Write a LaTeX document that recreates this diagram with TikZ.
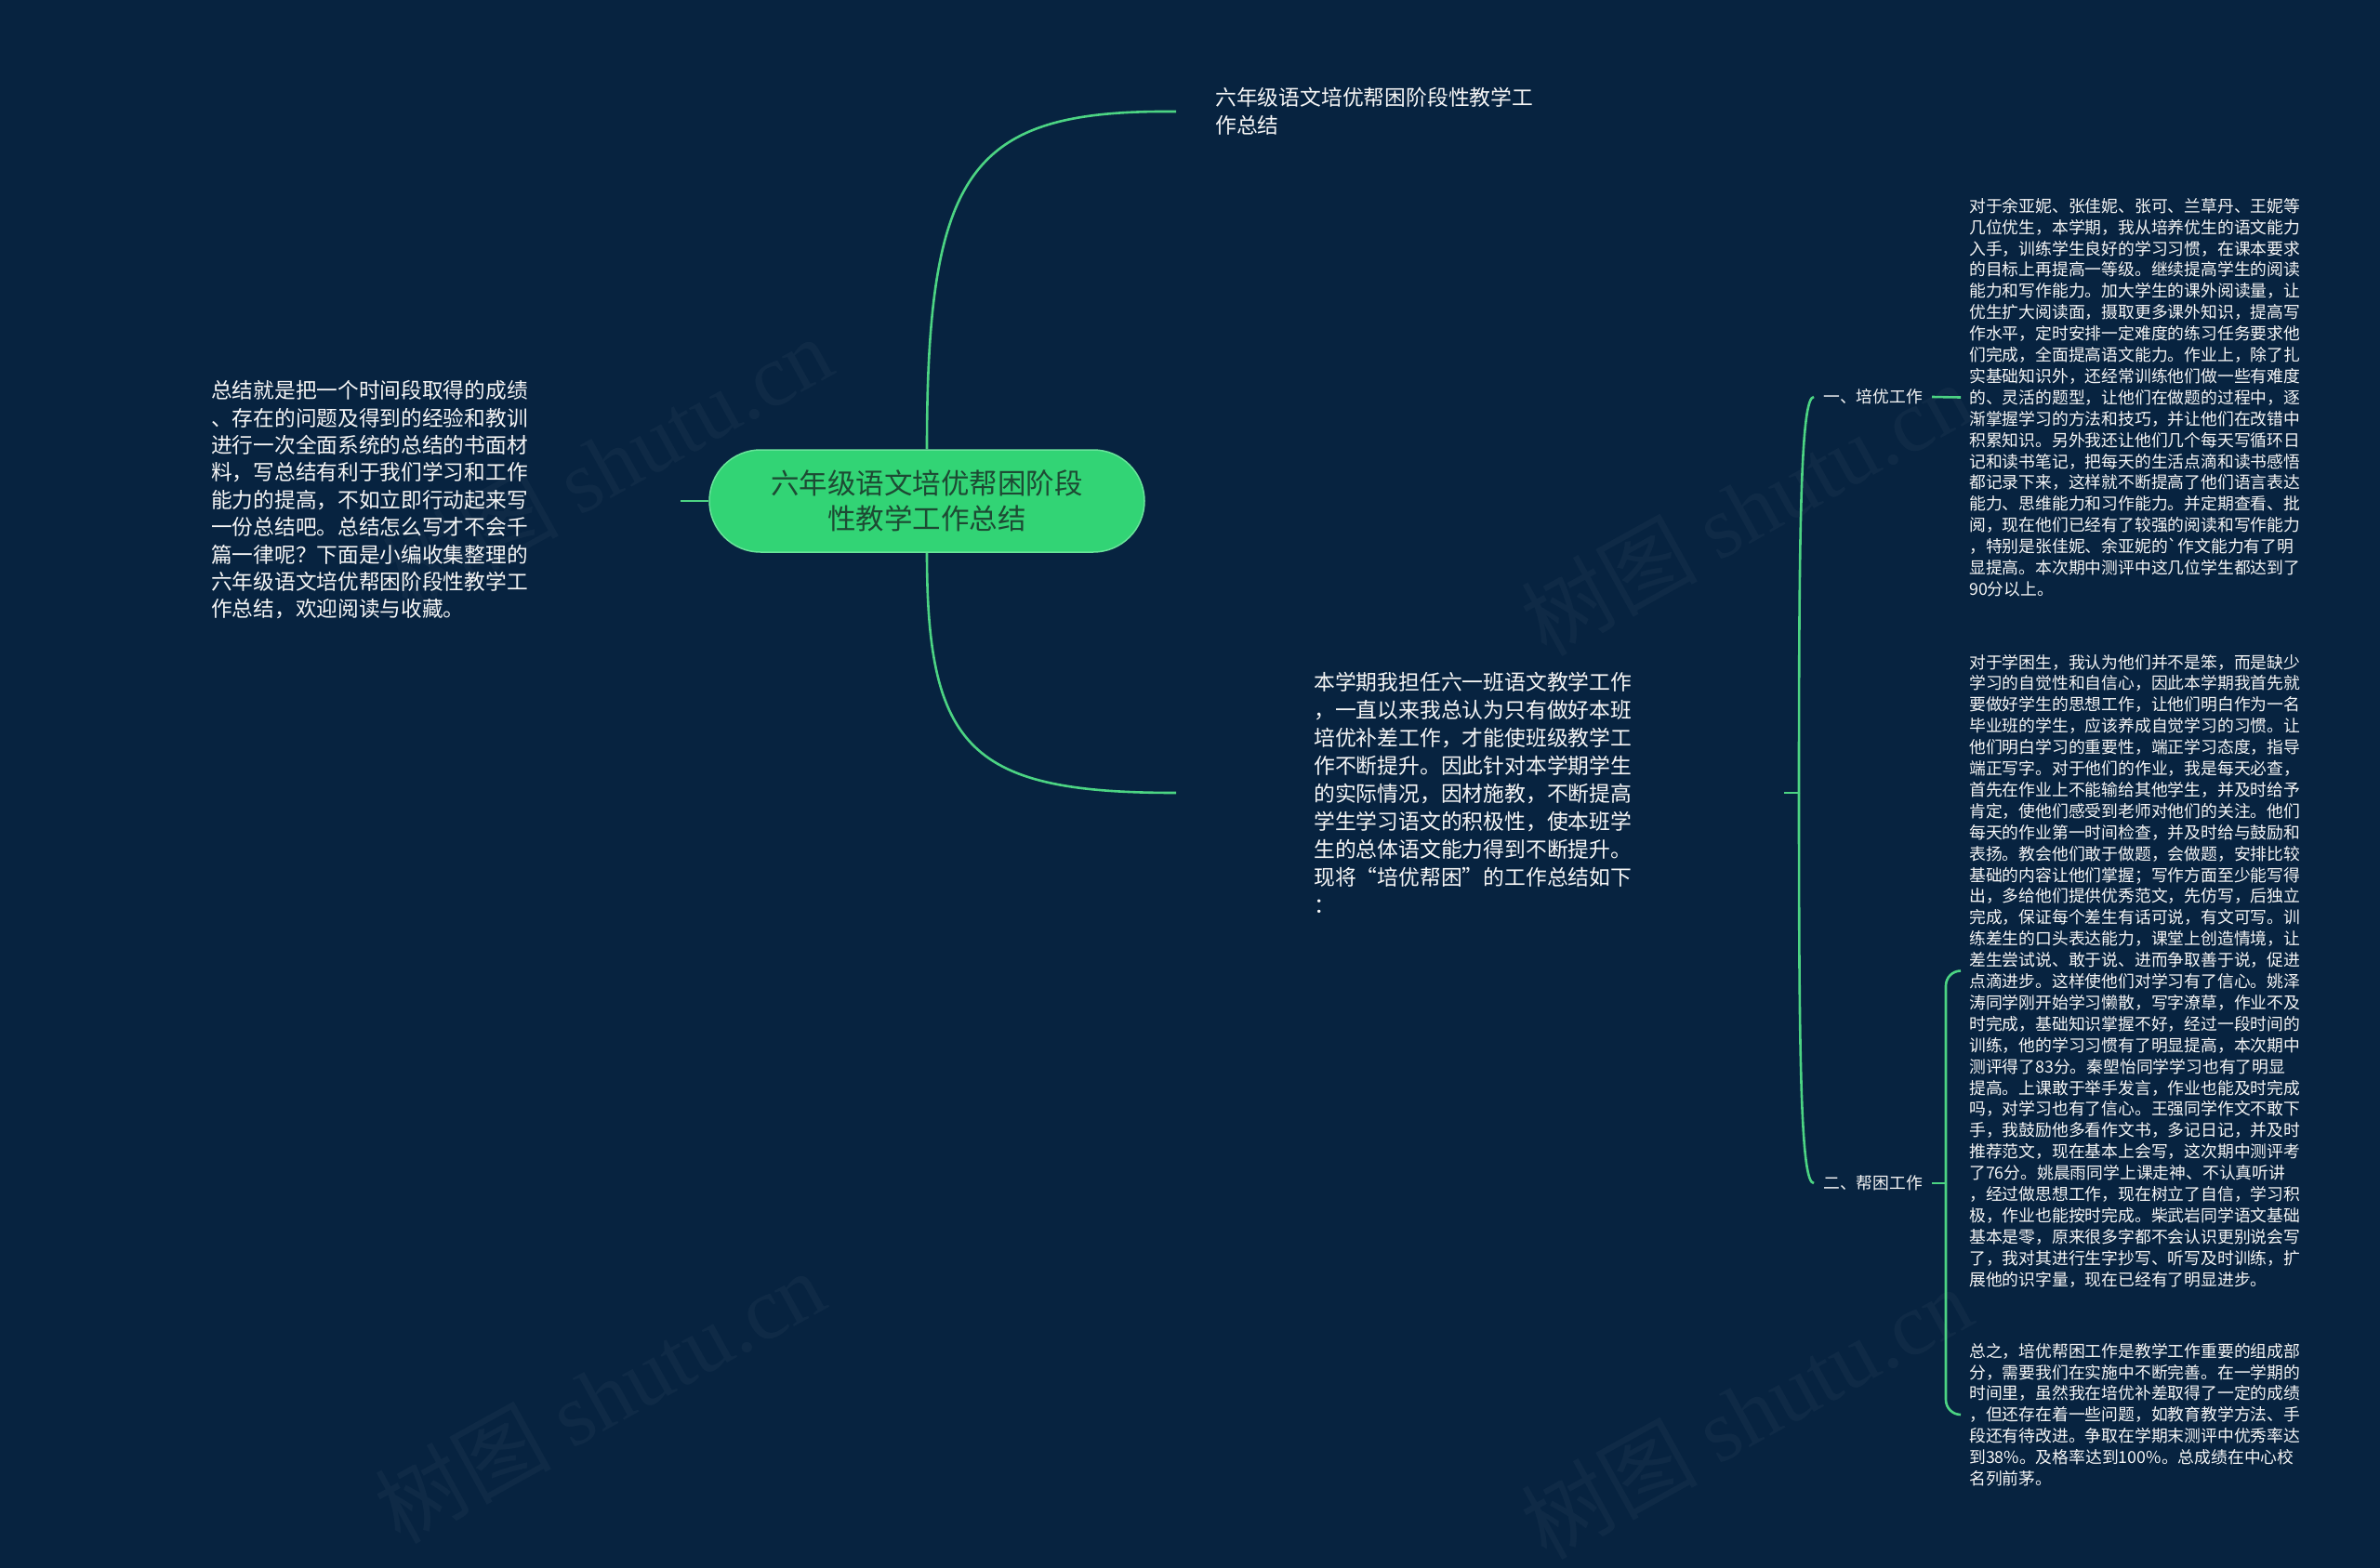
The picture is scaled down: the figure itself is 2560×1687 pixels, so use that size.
\documentclass[tikz,border=0pt]{standalone}
\usepackage{fontspec}
\newfontfamily\cjk{Noto Sans CJK SC}
\newfontfamily\wmserif{Liberation Serif}
\definecolor{bg}{RGB}{7,35,64}
\definecolor{ln}{RGB}{76,212,131}
\definecolor{rootfill}{RGB}{50,212,117}
\definecolor{rootline}{RGB}{104,228,154}
\definecolor{roottext}{RGB}{29,74,51}
\definecolor{txt}{RGB}{246,246,246}
\begin{document}
\begin{tikzpicture}[x=1pt,y=-1pt,
  conn/.style={draw=ln, line width=2.6pt},
  rootbox/.style={rectangle, rounded corners=55pt, fill=rootfill, draw=rootline, line width=1.5pt,
    minimum width=468pt, minimum height=110pt, inner sep=0pt, align=center, text=roottext,
    font=\cjk\fontsize{30.5}{38}\selectfont},
  bigtxt/.style={text=txt, align=left, anchor=west, inner ysep=0pt,
    font=\cjk\fontsize{22.8}{30}\selectfont},
  lefttxt/.style={text=txt, align=left, anchor=west, inner sep=0pt,
    font=\cjk\fontsize{22.7}{29.4}\selectfont},
  labeltxt/.style={text=txt, align=left, anchor=west, inner ysep=0pt, inner xsep=10pt,
    font=\cjk\fontsize{17.8}{22}\selectfont},
  bodytxt/.style={text=txt, align=left, anchor=west, inner ysep=0pt, inner xsep=9pt,
    font=\cjk\fontsize{17.8}{22.9}\selectfont},
  wmark/.style={text=white, text opacity=0.035, rotate=29, inner sep=0pt}
]
\useasboundingbox (0,0) rectangle (2560,1687);
\fill[bg] (0,0) rectangle (2560,1687);

% watermarks
\node[wmark] (wm1) at (653,498) {\cjk\fontsize{95}{95}\selectfont 树图 \wmserif shutu.cn};
\node[wmark] (wm2) at (1878,547) {\cjk\fontsize{95}{95}\selectfont 树图 \wmserif shutu.cn};
\node[wmark] (wm3) at (645,1502) {\cjk\fontsize{95}{95}\selectfont 树图 \wmserif shutu.cn};
\node[wmark] (wm4) at (1878,1519) {\cjk\fontsize{95}{95}\selectfont 树图 \wmserif shutu.cn};

% root
\node[rootbox] (root) at (997,539) {六年级语文培优帮困阶段\\性教学工作总结};

% left text
\node[lefttxt] (left) at (227,538) {总结就是把一个时间段取得的成绩\\、存在的问题及得到的经验和教训\\进行一次全面系统的总结的书面材\\料，写总结有利于我们学习和工作\\能力的提高，不如立即行动起来写\\一份总结吧。总结怎么写才不会千\\篇一律呢？下面是小编收集整理的\\六年级语文培优帮困阶段性教学工\\作总结，欢迎阅读与收藏。};
\coordinate (lE) at (732,539);

% top text
\node[bigtxt, inner xsep=42pt] (top) at (1265,120) {六年级语文培优帮困阶段性教学工\\作总结};

% middle text
\node[bigtxt, inner xsep=148pt] (mid) at (1265,853) {本学期我担任六一班语文教学工作\\，一直以来我总认为只有做好本班\\培优补差工作，才能使班级教学工\\作不断提升。因此针对本学期学生\\的实际情况，因材施教，不断提高\\学生学习语文的积极性，使本班学\\生的总体语文能力得到不断提升。\\现将“培优帮困”的工作总结如下\\：};

\coordinate (mR) at (1919,853);
\coordinate (bj) at (1935,853);

% labels
\node[labeltxt] (pe) at (1951,427) {一、培优工作};
\node[labeltxt] (bk) at (1951,1273) {二、帮困工作};
\coordinate (bkj) at (2093,1273);

% body blocks
\node[bodytxt] (b1) at (2109,427.5) {对于余亚妮、张佳妮、张可、兰草丹、王妮等\\几位优生，本学期，我从培养优生的语文能力\\入手，训练学生良好的学习习惯，在课本要求\\的目标上再提高一等级。继续提高学生的阅读\\能力和写作能力。加大学生的课外阅读量，让\\优生扩大阅读面，摄取更多课外知识，提高写\\作水平，定时安排一定难度的练习任务要求他\\们完成，全面提高语文能力。作业上，除了扎\\实基础知识外，还经常训练他们做一些有难度\\的、灵活的题型，让他们在做题的过程中，逐\\渐掌握学习的方法和技巧，并让他们在改错中\\积累知识。另外我还让他们几个每天写循环日\\记和读书笔记，把每天的生活点滴和读书感悟\\都记录下来，这样就不断提高了他们语言表达\\能力、思维能力和习作能力。并定期查看、批\\阅，现在他们已经有了较强的阅读和写作能力\\，特别是张佳妮、余亚妮的\textasciigrave 作文能力有了明\\显提高。本次期中测评中这几位学生都达到了\\90分以上。};

\node[bodytxt] (b2) at (2109,1044.5) {对于学困生，我认为他们并不是笨，而是缺少\\学习的自觉性和自信心，因此本学期我首先就\\要做好学生的思想工作，让他们明白作为一名\\毕业班的学生，应该养成自觉学习的习惯。让\\他们明白学习的重要性，端正学习态度，指导\\端正写字。对于他们的作业，我是每天必查，\\首先在作业上不能输给其他学生，并及时给予\\肯定，使他们感受到老师对他们的关注。他们\\每天的作业第一时间检查，并及时给与鼓励和\\表扬。教会他们敢于做题，会做题，安排比较\\基础的内容让他们掌握；写作方面至少能写得\\出，多给他们提供优秀范文，先仿写，后独立\\完成，保证每个差生有话可说，有文可写。训\\练差生的口头表达能力，课堂上创造情境，让\\差生尝试说、敢于说、进而争取善于说，促进\\点滴进步。这样使他们对学习有了信心。姚泽\\涛同学刚开始学习懒散，写字潦草，作业不及\\时完成，基础知识掌握不好，经过一段时间的\\训练，他的学习习惯有了明显提高，本次期中\\测评得了83分。秦塱怡同学学习也有了明显\\提高。上课敢于举手发言，作业也能及时完成\\吗，对学习也有了信心。王强同学作文不敢下\\手，我鼓励他多看作文书，多记日记，并及时\\推荐范文，现在基本上会写，这次期中测评考\\了76分。姚晨雨同学上课走神、不认真听讲\\，经过做思想工作，现在树立了自信，学习积\\极，作业也能按时完成。柴武岩同学语文基础\\基本是零，原来很多字都不会认识更别说会写\\了，我对其进行生字抄写、听写及时训练，扩\\展他的识字量，现在已经有了明显进步。};

\node[bodytxt] (b3) at (2109,1522) {总之，培优帮困工作是教学工作重要的组成部\\分，需要我们在实施中不断完善。在一学期的\\时间里，虽然我在培优补差取得了一定的成绩\\，但还存在着一些问题，如教育教学方法、手\\段还有待改进。争取在学期末测评中优秀率达\\到38\%。及格率达到100\%。总成绩在中心校\\名列前茅。};

% connectors
\draw[conn] (lE) -- (root.west);
\draw[conn] (root.north) .. controls (997,180) and (1045,118) .. (top.west);
\draw[conn] (root.south) .. controls (997,807) and (1045,853) .. (mid.west);
\draw[conn] (mR) -- (bj);
\draw[conn] (bj) .. controls (1935,560) and (1937,427) .. (pe.west);
\draw[conn] (bj) .. controls (1935,1146) and (1937,1273) .. (bk.west);
\draw[conn] (pe.east) -- (b1.west);
\draw[conn] (bk.east) -- (bkj);
\draw[conn, rounded corners=16pt] (bkj) |- (b2.west);
\draw[conn, rounded corners=16pt] (bkj) |- (b3.west);
\end{tikzpicture}
\end{document}
